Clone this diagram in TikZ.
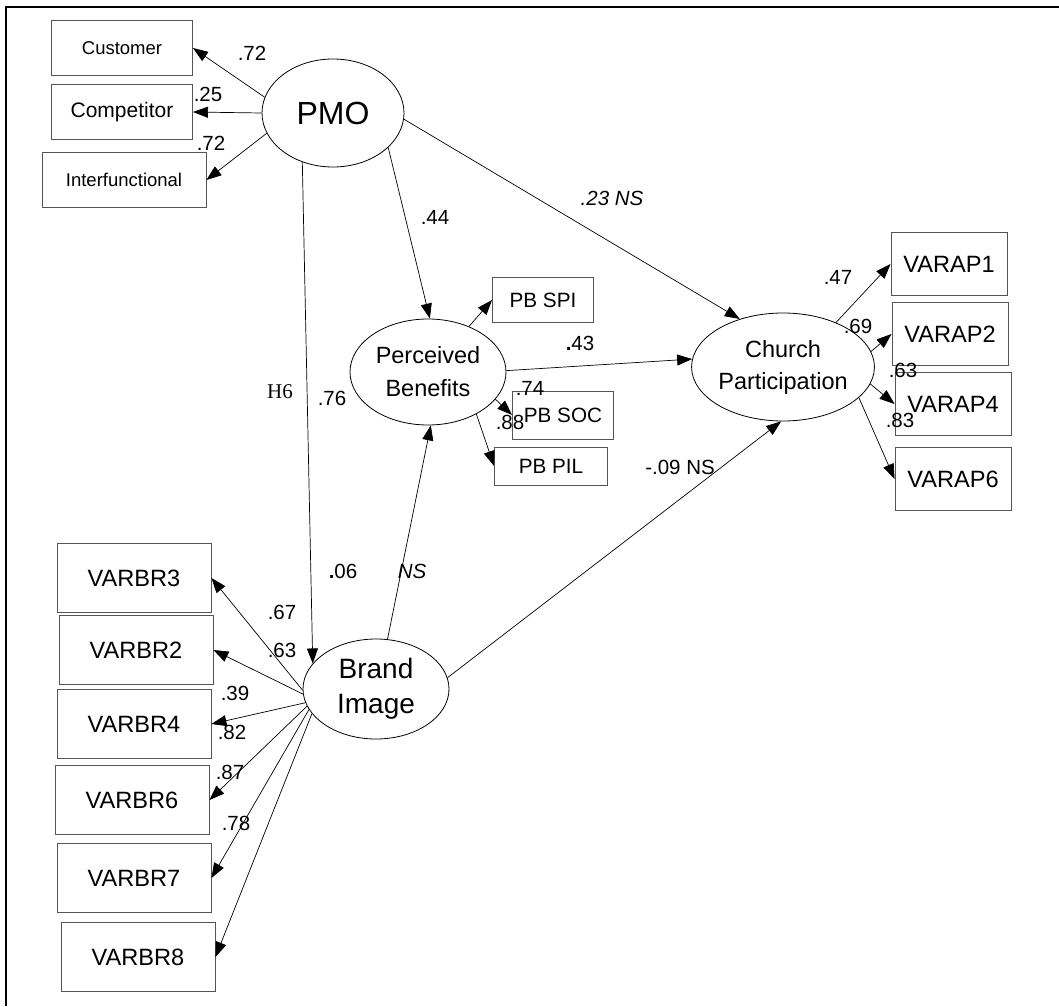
\documentclass[tikz,border=0pt]{standalone}
\usepackage{fontspec}
\setmainfont{Liberation Sans}
\newfontfamily\hserif{Liberation Serif}
\usetikzlibrary{arrows.meta, shapes.geometric}
\definecolor{boxline}{HTML}{555555}

\begin{document}
\begin{tikzpicture}[x=1pt, y=-1pt, >={Triangle[length=15pt, width=11pt]},
  ind/.style={draw=boxline, line width=0.9pt, inner sep=0pt, fill=white},
  lat/.style={draw, ellipse, line width=0.8pt, inner sep=0pt, align=center},
  coef/.style={inner sep=0pt, font=\fontsize{20.5}{24}\selectfont},
  path/.style={->, line width=0.7pt}]
  \useasboundingbox (0,0) rectangle (1059,1006);
  \draw[line width=2pt] (6,1006) |- (1059,7);
  % latent variables
  \node[lat, minimum width=142, minimum height=108, font=\fontsize{32}{36}\selectfont] (pmo) at (333,113) {PMO};
  \node[lat, minimum width=156, minimum height=106, font=\fontsize{23.5}{33}\selectfont] (pben) at (428,372) {Perceived\\Benefits};
  \node[lat, minimum width=174, minimum height=108, font=\fontsize{23.5}{32}\selectfont] (church) at (783,367) {Church\\Participation};
  \node[lat, minimum width=146, minimum height=100, font=\fontsize{28}{35}\selectfont] (brand) at (376,689) {Brand\\Image};
  % indicators
  \node[ind, minimum width=141, minimum height=55, font=\fontsize{18.5}{22}\selectfont] (cust) at (122,48) {Customer};
  \node[ind, minimum width=141, minimum height=55, font=\fontsize{21}{25}\selectfont] (comp) at (122,112) {Competitor};
  \node[ind, minimum width=164, minimum height=55, font=\fontsize{18.5}{22}\selectfont] (intf) at (124,180) {Interfunctional};
  \node[ind, minimum width=101, minimum height=45, font=\fontsize{20.7}{24}\selectfont] (pspi) at (543,300) {PB SPI};
  \node[ind, minimum width=101, minimum height=48, font=\fontsize{20.7}{24}\selectfont] (psoc) at (563,415) {PB SOC};
  \node[ind, minimum width=113, minimum height=38, font=\fontsize{20.7}{24}\selectfont] (ppil) at (551,466) {PB PIL};
  \foreach \n/\x/\y/\t in {vap1/949/264/VARAP1, vap2/950/334/VARAP2, vap4/953/404/VARAP4, vap6/953/479/VARAP6}
    \node[ind, minimum width=116, minimum height=63, font=\fontsize{23.6}{28}\selectfont] (\n) at (\x,\y) {\t};
  \foreach \n/\x/\y/\t in {vbr3/134/578/VARBR3, vbr2/136/650/VARBR2, vbr4/134/724/VARBR4,
                           vbr6/132/800/VARBR6, vbr7/134/878/VARBR7, vbr8/138/957/VARBR8}
    \node[ind, minimum width=154, minimum height=69, font=\fontsize{23.6}{28}\selectfont] (\n) at (\x,\y) {\t};
  % paths
  \draw[path] (pmo.167) -- (cust.east);
  \draw[path] (pmo.180) -- (comp.east);
  \draw[path] (pmo.197) -- (intf.east);
  \draw[path] (pmo.238) -- (brand.158);
  \draw[path] (pmo.328) -- (pben.88);
  \draw[path] (pmo.355) -- (church.132);
  \draw[path] (pben.1) -- (church.175);
  \draw[path] (pben.48) -- (pspi.west);
  \draw[path] (pben.338) -- (psoc.west);
  \draw[path] (pben.319) -- (ppil.west);
  \draw[path] (brand.77) -- (pben.273);
  \draw[path] (brand.9) -- (church.268);
  \draw[path] (church.40) -- (vap1.west);
  \draw[path] (church.10) -- (vap2.west);
  \draw[path] (church.349) -- (vap4.west);
  \draw[path] (church.338) -- (vap6.west);
  \foreach \b/\a in {vbr3/181, vbr2/184, vbr4/191, vbr6/194, vbr7/197, vbr8/201}
    \draw[path] (brand.\a) -- (\b.east);
  % coefficients
  \node[coef] (c1) at (252,53) {.72};
  \node[coef] (c2) at (208,94) {.25};
  \node[coef] (c3) at (211,143) {.72};
  \node[coef] (c4) at (435,217) {.44};
  \node[coef, font=\fontsize{20.5}{24}\selectfont\itshape] (c5) at (612,198) {.23 NS};
  \node[inner sep=0pt, font=\fontsize{21}{25}\selectfont\hserif] (h6) at (280,392) {H6};
  \node[coef] (c6) at (332,398) {.76};
  \node[coef] (c7) at (580,343) {\textbf{.}43};
  \node[coef] (c8) at (530,388) {.74};
  \node[coef] (c9) at (510,422) {.88};
  \node[coef] (c10) at (838,277) {.47};
  \node[coef] (c11) at (858,326) {.69};
  \node[coef] (c12) at (903,370) {.63};
  \node[coef] (c13) at (900,420) {.83};
  \node[coef] (c14) at (343,571) {\textbf{.}06};
  \node[coef, font=\fontsize{20.5}{24}\selectfont\itshape] (c15) at (412,571) {NS};
  \node[coef] (c16) at (680,467) {-.09 NS};
  \node[coef] (c17) at (282,612) {.67};
  \node[coef] (c18) at (282,650) {.63};
  \node[coef] (c19) at (235,693) {.39};
  \node[coef] (c20) at (232,732) {.82};
  \node[coef] (c21) at (230,772) {.87};
  \node[coef] (c22) at (236,823) {.78};
\end{tikzpicture}
\end{document}
